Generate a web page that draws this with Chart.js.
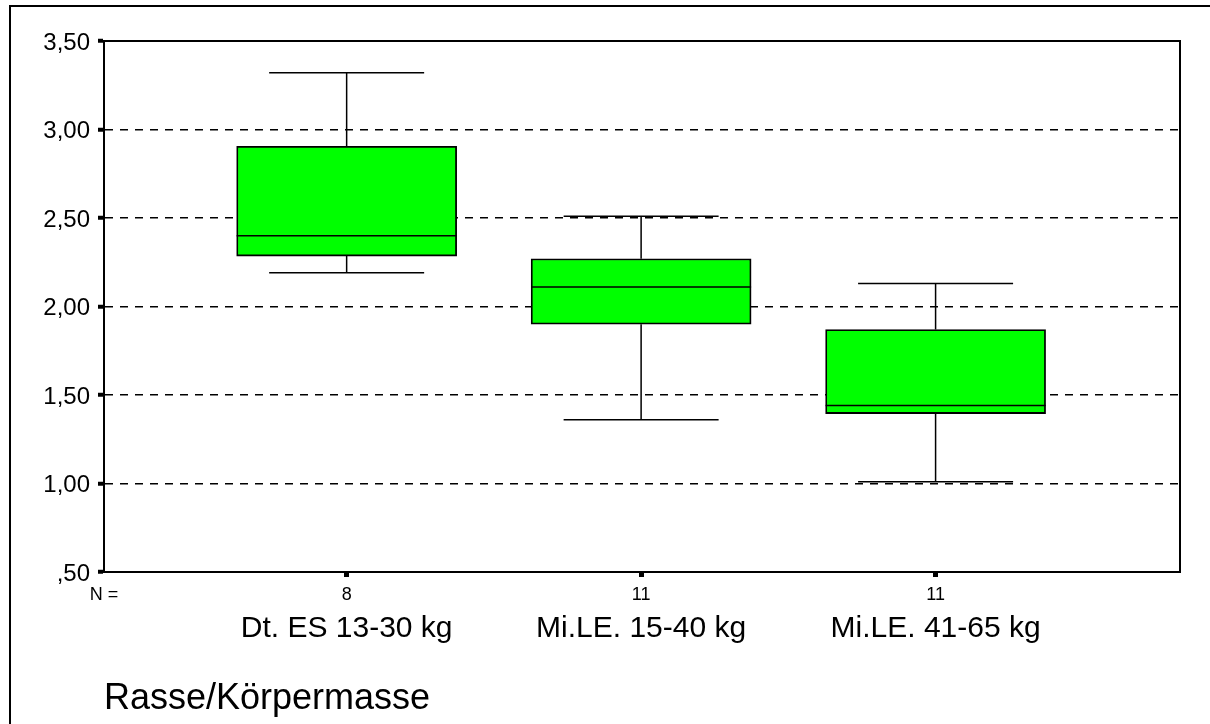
<!DOCTYPE html>
<html>
<head>
<meta charset="utf-8">
<script src="https://cdn.jsdelivr.net/npm/chart.js@4/dist/chart.umd.min.js"></script>
<style>
  body { margin: 0; background: #fff; }
  #wrap { width: 1210px; height: 724px; }
</style>
</head>
<body>
<div id="wrap"><canvas id="boxChart" width="1210" height="724"></canvas></div>
<script>
// data
const categories = ['Dt. ES 13-30 kg', 'Mi.LE. 15-40 kg', 'Mi.LE. 41-65 kg'];
const positions = [1, 2, 3];
const counts = [8, 11, 11];
const whiskerLow = [2.19, 1.36, 1.01];
const q1 = [2.285, 1.90, 1.395];
const median = [2.40, 2.11, 1.44];
const q3 = [2.905, 2.27, 1.87];
const whiskerHigh = [3.32, 2.51, 2.13];
const yTicks = [0.5, 1.0, 1.5, 2.0, 2.5, 3.0, 3.5];

const X_MIN = 0.176, X_MAX = 3.83;
const BOX_W = 220, CAP_W = 155;
const FONT = "'Liberation Sans', Arial, sans-serif";

Chart.defaults.color = '#000';
Chart.defaults.font.family = FONT;

const fmt = v => v.toFixed(2).replace('.', ',').replace(/^0/, '');

// whiskers + medians drawn through the scales
const whiskerPlugin = {
  id: 'whiskers',
  afterDatasetsDraw(chart) {
    const ctx = chart.ctx;
    const xs = chart.scales.x, ys = chart.scales.y;
    ctx.save();
    ctx.strokeStyle = '#000';
    ctx.lineWidth = 1.5;
    positions.forEach((p, i) => {
      const x = xs.getPixelForValue(p);
      const yLo = ys.getPixelForValue(whiskerLow[i]);
      const yQ1 = ys.getPixelForValue(q1[i]);
      const yMed = ys.getPixelForValue(median[i]);
      const yQ3 = ys.getPixelForValue(q3[i]);
      const yHi = ys.getPixelForValue(whiskerHigh[i]);
      ctx.beginPath();
      ctx.moveTo(x, yQ3); ctx.lineTo(x, yHi);
      ctx.moveTo(x - CAP_W / 2, yHi); ctx.lineTo(x + CAP_W / 2, yHi);
      ctx.moveTo(x, yQ1); ctx.lineTo(x, yLo);
      ctx.moveTo(x - CAP_W / 2, yLo); ctx.lineTo(x + CAP_W / 2, yLo);
      ctx.moveTo(x - BOX_W / 2, yMed); ctx.lineTo(x + BOX_W / 2, yMed);
      ctx.stroke();
    });
    ctx.restore();
  },
  afterDraw(chart) {
    const ctx = chart.ctx;
    const a = chart.chartArea;
    ctx.save();
    ctx.strokeStyle = '#000';
    ctx.lineWidth = 2;
    // plot frame top + right
    ctx.beginPath();
    ctx.moveTo(a.left, a.top); ctx.lineTo(a.right, a.top); ctx.lineTo(a.right, a.bottom);
    ctx.stroke();
    // outer page frame
    ctx.beginPath();
    ctx.moveTo(10, 730); ctx.lineTo(10, 6); ctx.lineTo(1215, 6);
    ctx.stroke();
    ctx.restore();
  }
};

new Chart(document.getElementById('boxChart'), {
  type: 'bar',
  data: {
    datasets: [{
      data: positions.map((p, i) => ({ x: p, y: [q1[i], q3[i]] })),
      backgroundColor: '#00ff00',
      borderColor: '#000',
      borderWidth: 1.8,
      borderSkipped: false,
      barThickness: BOX_W
    }]
  },
  options: {
    responsive: false,
    animation: false,
    events: [],
    layout: { padding: { left: 0, top: 41, right: 30, bottom: 3.4 } },
    plugins: { legend: { display: false }, tooltip: { enabled: false } },
    scales: {
      y: {
        min: 0.5,
        max: 3.5,
        afterBuildTicks: s => { s.ticks = yTicks.map(v => ({ value: v })); },
        afterFit: s => { s.width = 104; },
        ticks: { callback: v => fmt(v), font: { size: 24 }, padding: 8, labelOffset: 2, color: '#000' },
        grid: { color: '#000', lineWidth: 1.5, tickLength: 6, tickWidth: 4, tickColor: '#000' },
        border: { display: true, color: '#000', width: 2, dash: [8, 7] }
      },
      x: {
        type: 'linear',
        min: X_MIN,
        max: X_MAX,
        offset: false,
        afterBuildTicks: s => { s.ticks = [X_MIN].concat(positions).map(v => ({ value: v })); },
        afterFit: s => { s.height = 36; },
        ticks: {
          autoSkip: false, maxRotation: 0, minRotation: 0, padding: 7,
          font: { size: 18 },
          callback: (v, i) => i === 0 ? 'N =' : String(counts[i - 1])
        },
        grid: {
          offset: false, drawOnChartArea: false, tickLength: 5, tickWidth: 5,
          tickColor: c => (c.index === 0 ? 'rgba(0,0,0,0)' : '#000')
        },
        border: { display: true, color: '#000', width: 2 }
      },
      x2: {
        type: 'linear',
        position: 'bottom',
        min: X_MIN,
        max: X_MAX,
        offset: false,
        afterBuildTicks: s => { s.ticks = positions.map(v => ({ value: v })); },
        afterFit: s => { s.height = 112.6; },
        ticks: {
          autoSkip: false, maxRotation: 0, minRotation: 0, padding: 3,
          font: { size: 30 },
          callback: (v, i) => categories[i]
        },
        grid: { display: false, drawTicks: false },
        border: { display: false },
        title: {
          display: true, text: 'Rasse/Körpermasse', align: 'start',
          font: { size: 36 }, padding: 0, color: '#000'
        }
      }
    }
  },
  plugins: [whiskerPlugin]
});
</script>
</body>
</html>
